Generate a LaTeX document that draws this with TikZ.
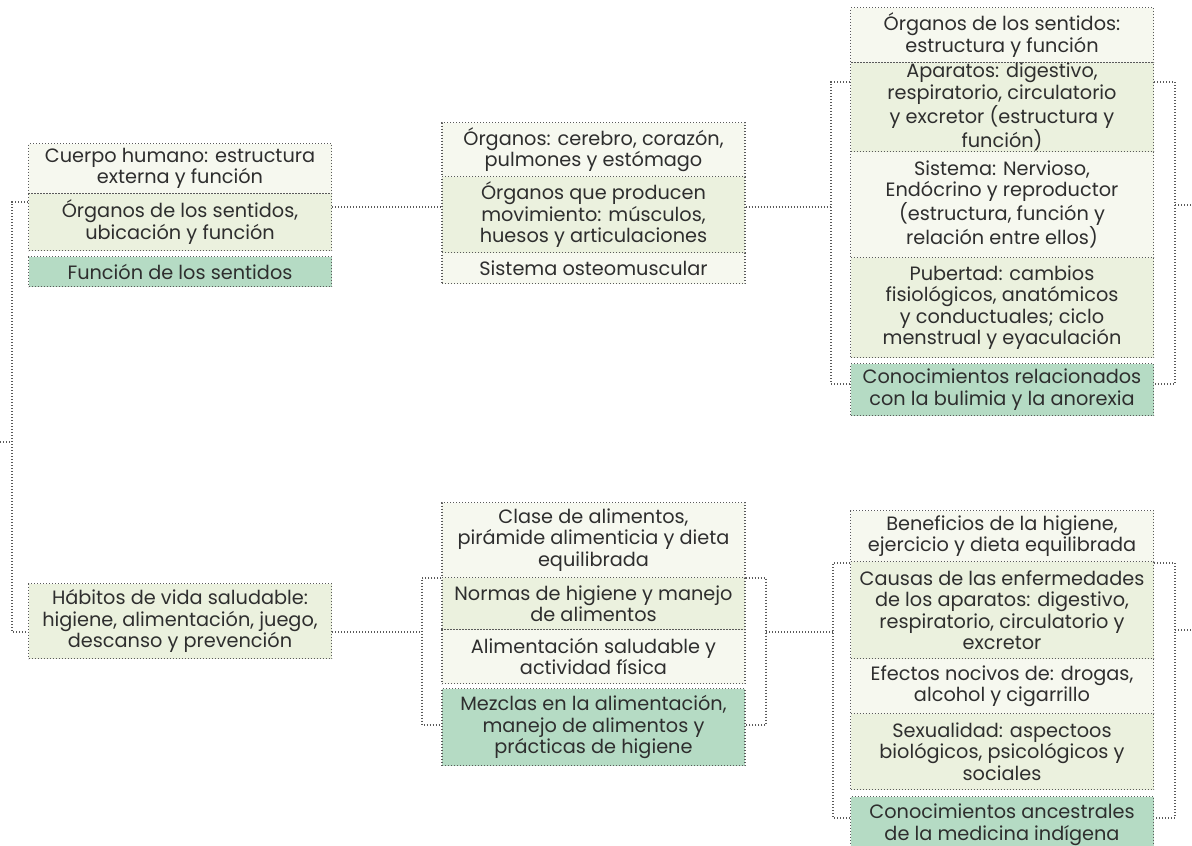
\documentclass[tikz,border=0pt]{standalone}
\usepackage{fontspec}
\setmainfont{Poppins}
\definecolor{palegreen}{HTML}{F6F8EF}
\definecolor{lightgreen}{HTML}{EBF1DE}
\definecolor{darkgreen}{HTML}{B5DBC4}
\definecolor{dotgray}{HTML}{5A5A5A}
\definecolor{inkgray}{HTML}{2E2E2E}
\newcommand{\cellBox}[6][]{
	\path (#2,#3) node[cell, #1, minimum height=#4pt](#5){#6};
}
\tikzset{
	cell/.style={draw=dotgray, line width=1.1pt, dash pattern=on 1pt off 2pt,
		minimum width=303pt, inner sep=0pt, anchor=north, align=center,
		text=inkgray, font=\fontsize{19.3}{21.5}\selectfont},
	pale/.style={fill=palegreen},
	light/.style={fill=lightgreen},
	dark/.style={fill=darkgreen},
	link/.style={draw=dotgray, line width=1.1pt, dash pattern=on 1pt off 2pt}
}

\begin{document}
\begin{tikzpicture}[x=1pt, y=-1pt]
	\useasboundingbox (0,0) rectangle (1192,846);

	% left column
	\cellBox[pale]{180}{143}{50}{A1}{Cuerpo humano: estructura\\externa y función};
	\cellBox[light]{180}{193}{57}{A2}{Órganos de los sentidos,\\ubicación y función};
	\cellBox[dark]{180}{256}{30}{A3}{Función de los sentidos};
	\cellBox[light]{180}{583}{75}{H}{Hábitos de vida saludable:\\higiene, alimentación, juego,\\descanso y prevención};

	% middle column
	\cellBox[pale]{593.5}{122}{54}{M1}{Órganos: cerebro, corazón,\\pulmones y estómago};
	\cellBox[light]{593.5}{176}{76}{M2}{Órganos que producen\\movimiento: músculos,\\huesos y articulaciones};
	\cellBox[pale]{593.5}{252}{31}{M3}{Sistema osteomuscular};
	\cellBox[pale]{593.5}{502}{75}{N1}{Clase de alimentos,\\pirámide alimenticia y dieta\\equilibrada};
	\cellBox[light]{593.5}{577}{52}{N2}{Normas de higiene y manejo\\de alimentos};
	\cellBox[pale]{593.5}{629}{54}{N3}{Alimentación saludable y\\actividad física};
	\cellBox[dark]{593.5}{688}{77}{N4}{Mezclas en la alimentación,\\manejo de alimentos y\\prácticas de higiene};

	% right column
	\cellBox[pale]{1002}{7}{55}{R1}{Órganos de los sentidos:\\estructura y función};
	\cellBox[light]{1002}{62}{89}{R2}{Aparatos: digestivo,\\respiratorio, circulatorio\\y excretor (estructura y\\función)};
	\cellBox[pale]{1002}{151}{106}{R3}{Sistema: Nervioso,\\Endócrino y reproductor\\(estructura, función y\\relación entre ellos)};
	\cellBox[light]{1002}{257}{100}{R4}{Pubertad: cambios\\fisiológicos, anatómicos\\y conductuales; ciclo\\menstrual y eyaculación};
	\cellBox[dark]{1002}{363}{52}{R5}{Conocimientos relacionados\\con la bulimia y la anorexia};
	\cellBox[pale]{1002}{510}{51}{S1}{Beneficios de la higiene,\\ejercicio y dieta equilibrada};
	\cellBox[light]{1002}{561}{97}{S2}{Causas de las enfermedades\\de los aparatos: digestivo,\\respiratorio, circulatorio y\\excretor};
	\cellBox[pale]{1002}{658}{55}{S3}{Efectos nocivos de: drogas,\\alcohol y cigarrillo};
	\cellBox[light]{1002}{713}{76}{S4}{Sexualidad: aspectoos\\biológicos, psicológicos y\\sociales};
	\cellBox[dark]{1002}{796}{56}{S5}{Conocimientos ancestrales\\de la medicina indígena};

	% bracket corners
	\coordinate (lbTop) at (12,202);
	\coordinate (lbBot) at (12,632);
	\coordinate (lbIn) at (0,442);
	\coordinate (rtTopL) at (831,82);
	\coordinate (rtBotL) at (831,384);
	\coordinate (rtTopR) at (1175,82);
	\coordinate (rtBotR) at (1175,384);
	\coordinate (rtOut) at (1192,205);
	\coordinate (mbTopL) at (422,578);
	\coordinate (mbBotL) at (422,725);
	\coordinate (mbTopR) at (766,578);
	\coordinate (mbBotR) at (766,725);
	\coordinate (rbTopL) at (833,563);
	\coordinate (rbBotL) at (833,818);
	\coordinate (rbTopR) at (1175,563);
	\coordinate (rbBotR) at (1175,818);
	\coordinate (rbOut) at (1192,630);
	\coordinate (topRow) at (0,207);
	\coordinate (botRow) at (0,632);

	% brackets
	\draw[link] (A2.west |- lbTop) -- (lbTop) -- (lbBot) -- (H.west |- lbBot);
	\draw[link] (lbIn) -- (lbTop |- lbIn);
	\draw[link] (R2.west |- rtTopL) -- (rtTopL) -- (rtBotL) -- (R5.west |- rtBotL);
	\draw[link] (R2.east |- rtTopR) -- (rtTopR) -- (rtBotR) -- (R5.east |- rtBotR);
	\draw[link] (N2.west |- mbTopL) -- (mbTopL) -- (mbBotL) -- (N4.west |- mbBotL);
	\draw[link] (N2.east |- mbTopR) -- (mbTopR) -- (mbBotR) -- (N4.east |- mbBotR);
	\draw[link] (S2.west |- rbTopL) -- (rbTopL) -- (rbBotL) -- (S5.west |- rbBotL);
	\draw[link] (S2.east |- rbTopR) -- (rbTopR) -- (rbBotR) -- (S5.east |- rbBotR);

	% links between columns
	\draw[link] (A2.east |- topRow) -- (M2.west |- topRow);
	\draw[link] (M2.east |- topRow) -- (rtTopL |- topRow);
	\draw[link] (rtTopR |- rtOut) -- (rtOut);
	\draw[link] (H.east |- botRow) -- (mbTopL |- botRow);
	\draw[link] (mbTopR |- botRow) -- (rbTopL |- botRow);
	\draw[link] (rbTopR |- rbOut) -- (rbOut);
\end{tikzpicture}
\end{document}
